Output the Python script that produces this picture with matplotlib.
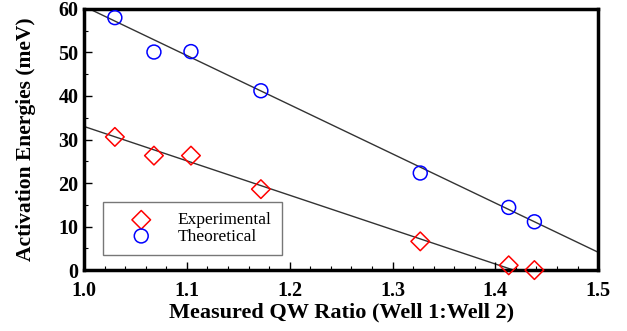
import matplotlib
matplotlib.use("Agg")
import matplotlib.pyplot as plt
import numpy as np
from matplotlib.ticker import MultipleLocator

# data
qw_ratio = [1.03, 1.068, 1.104, 1.172, 1.327, 1.413, 1.438]
experimental = [30.6, 26.3, 26.3, 18.6, 6.6, 1.1, 0.0]
theoretical = [58.0, 50.1, 50.2, 41.2, 22.3, 14.4, 11.1]

# linear fits (intercept at x=1.0, slope per unit ratio)
exp_fit = [33.0, -79.0]
theo_fit = [60.6, -113.0]
fit_range = [1.0, 1.5]

plt.rcParams['font.family'] = ['Liberation Serif', 'DejaVu Serif']

fig = plt.figure(figsize=(6.27, 3.31), dpi=100)
ax = fig.add_axes([0.134, 0.184, 0.82, 0.789])

xs = np.array(fit_range)
ax.plot(xs, exp_fit[0] + exp_fit[1] * (xs - 1.0), color='#333333', lw=1.0, zorder=1)
ax.plot(xs, theo_fit[0] + theo_fit[1] * (xs - 1.0), color='#333333', lw=1.0, zorder=1)

ax.scatter(qw_ratio, experimental, marker='D', s=90, facecolors='none',
           edgecolors='red', linewidths=1.1, label='Experimental', zorder=3, clip_on=False)
ax.scatter(qw_ratio, theoretical, marker='o', s=100, facecolors='none',
           edgecolors='blue', linewidths=1.1, label='Theoretical', zorder=3, clip_on=False)

ax.set_xlim(1.0, 1.5)
ax.set_ylim(0, 60)
ax.xaxis.set_major_locator(MultipleLocator(0.1))
ax.xaxis.set_minor_locator(MultipleLocator(0.02))
ax.yaxis.set_major_locator(MultipleLocator(10))
ax.yaxis.set_minor_locator(MultipleLocator(5))
ax.set_xticklabels([f'{v:.1f}' for v in ax.get_xticks()])
ax.tick_params(which='both', direction='in', top=False, right=False)
ax.tick_params(which='major', length=6, width=1, labelsize=14.5)
ax.tick_params(axis='x', which='major', pad=8)
ax.tick_params(axis='y', which='major', pad=4)
ax.tick_params(which='minor', length=3, width=0.8)
for lab in ax.get_xticklabels() + ax.get_yticklabels():
    lab.set_fontweight('bold')
for sp in ax.spines.values():
    sp.set_linewidth(2.5)

ax.set_xlabel('Measured QW Ratio (Well 1:Well 2)', fontsize=16, fontweight='bold', labelpad=1)
ax.set_ylabel('Activation Energies (meV)', fontsize=15.5, fontweight='bold', labelpad=16)

leg = ax.legend(loc='lower left', bbox_to_anchor=(0.037, 0.058), fontsize=12.5,
                frameon=True, fancybox=False, edgecolor='#555555',
                handletextpad=0.5, borderpad=0.6, labelspacing=0.0,
                borderaxespad=0, handlelength=3.2)
leg.get_frame().set_linewidth(1.0)

fig.savefig('out.png', dpi=100)
